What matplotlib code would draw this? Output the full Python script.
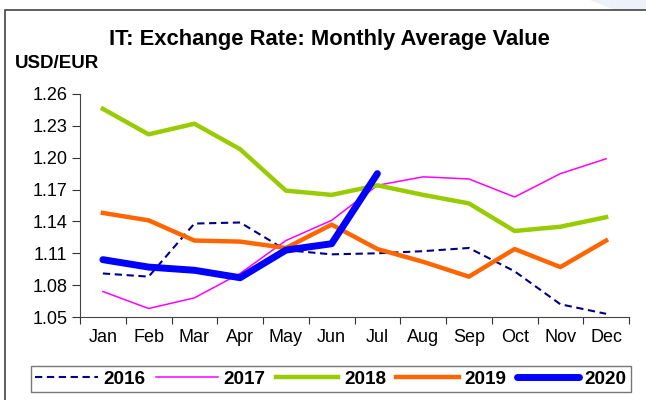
import matplotlib.pyplot as plt
import matplotlib.patches as patches

plt.rcParams['font.family'] = ['Liberation Sans', 'DejaVu Sans']

months = ["Jan", "Feb", "Mar", "Apr", "May", "Jun",
          "Jul", "Aug", "Sep", "Oct", "Nov", "Dec"]
rate_2016 = [1.091, 1.088, 1.138, 1.139, 1.113, 1.109,
             1.110, 1.112, 1.115, 1.093, 1.062, 1.053]
rate_2017 = [1.074, 1.058, 1.068, 1.091, 1.122, 1.141,
             1.174, 1.182, 1.180, 1.163, 1.185, 1.199]
rate_2018 = [1.246, 1.222, 1.232, 1.208, 1.169, 1.165,
             1.174, 1.165, 1.157, 1.131, 1.135, 1.144]
rate_2019 = [1.148, 1.141, 1.122, 1.121, 1.115, 1.137,
             1.114, 1.102, 1.088, 1.114, 1.097, 1.122]
rate_2020 = [1.104, 1.097, 1.094, 1.087, 1.113, 1.119, 1.185]
yticks = [1.05, 1.08, 1.11, 1.14, 1.17, 1.20, 1.23, 1.26]

fig = plt.figure(figsize=(6.46, 4.0), dpi=100)
ax = fig.add_axes([80 / 646, 1 - 317 / 400, 549 / 646, 223 / 400])

x = list(range(12))
ax.plot(x, rate_2016, color="#000080", lw=1.5, ls=(0, (3.5, 2.2)), label="2016")
ax.plot(x, rate_2017, color="#FF00FF", lw=1.1, label="2017")
ax.plot(x, rate_2018, color="#99CC00", lw=3.2, label="2018")
ax.plot(x, rate_2019, color="#FF6600", lw=3.2, label="2019")
ax.plot(x[:len(rate_2020)], rate_2020, color="#0000FF", lw=5,
        solid_capstyle="round", label="2020")

ax.set_xlim(-0.5, 11.5)
ax.set_ylim(1.05, 1.26)
ax.set_yticks(yticks)
ax.set_yticklabels(["%.2f" % v for v in yticks], fontsize=13)
# month names centred, tick marks between months
ax.set_xticks([i + 0.5 for i in range(-1, 12)])
ax.set_xticklabels([])
ax.set_xticks(x, minor=True)
ax.set_xticklabels(months, minor=True, fontsize=13)
ax.tick_params(axis="x", which="minor", length=0, pad=9)
ax.tick_params(axis="x", which="major", length=5, color="#333333")
ax.tick_params(axis="y", length=6, color="#333333", pad=3)
for side in ["top", "right"]:
    ax.spines[side].set_visible(False)
for side in ["left", "bottom"]:
    ax.spines[side].set_color("#444444")

fig.text(329 / 646, 1 - 40 / 400, "IT: Exchange Rate: Monthly Average Value",
         ha="center", va="center", fontsize=15.8, fontweight="bold")
fig.text(15 / 646, 1 - 63 / 400, "USD/EUR", ha="left", va="center",
         fontsize=13.5, fontweight="bold")

leg = fig.legend(loc="center", ncol=5,
                 bbox_to_anchor=(331 / 646, 1 - 379 / 400),
                 frameon=True, fancybox=False, handlelength=3.3,
                 handletextpad=0.3, borderpad=0.25, columnspacing=0.55,
                 borderaxespad=0, prop={"weight": "bold", "size": 13.6})
leg.get_frame().set_edgecolor("#555555")
leg.get_frame().set_linewidth(1.0)

# outer frame of the panel
fig.patches.append(patches.Rectangle((5 / 646, -0.1), 2.0, 1 - 10 / 400 + 0.1,
                                     transform=fig.transFigure, fill=False,
                                     edgecolor="#444444", lw=1.2))
# pale corner decoration at the top right
fig.patches.append(patches.Polygon([(590 / 646, 1.0), (1.0, 1.0), (1.0, 1 - 10 / 400),
                                    (615 / 646, 1 - 10 / 400)],
                                   transform=fig.transFigure, facecolor="#eef0fa",
                                   edgecolor="none", zorder=0))

fig.savefig("out.png", dpi=100)
